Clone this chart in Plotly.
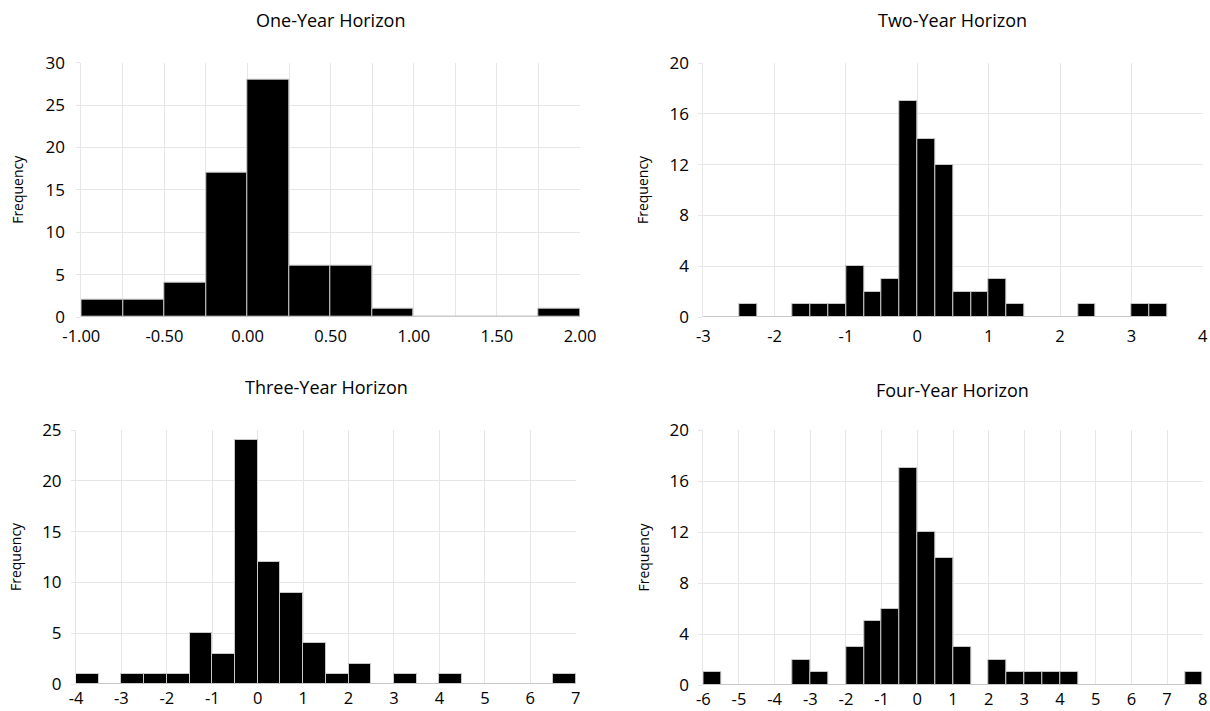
import plotly.graph_objects as go

# ---- data ----
titles = ["One-Year Horizon", "Two-Year Horizon", "Three-Year Horizon", "Four-Year Horizon"]

p1_start, p1_width = -1.0, 0.25
p1_counts = [2, 2, 4, 17, 28, 6, 6, 1, 0, 0, 0, 1]

p2_start, p2_width = -3.0, 0.25
p2_counts = [0, 0, 1, 0, 0, 1, 1, 1, 4, 2, 3, 17, 14, 12, 2, 2, 3, 1, 0, 0, 0, 1, 0, 0, 1, 1]

p3_start, p3_width = -4.0, 0.5
p3_counts = [1, 0, 1, 1, 1, 5, 3, 24, 12, 9, 4, 1, 2, 0, 1, 0, 1, 0, 0, 0, 0, 1]

p4_start, p4_width = -6.0, 0.5
p4_counts = [1, 0, 0, 0, 0, 2, 1, 0, 3, 5, 6, 17, 12, 10, 3, 0, 2, 1, 1, 1, 1, 0, 0, 0, 0, 0, 0, 1]

p1_xgrid = [-1.0, -0.75, -0.5, -0.25, 0.0, 0.25, 0.5, 0.75, 1.0, 1.25, 1.5, 1.75, 2.0]
p1_xlabels = ["-1.00", "", "-0.50", "", "0.00", "", "0.50", "", "1.00", "", "1.50", "", "2.00"]
p2_xgrid = [-3, -2, -1, 0, 1, 2, 3, 4]
p3_xgrid = [-4, -3, -2, -1, 0, 1, 2, 3, 4, 5, 6, 7]
p4_xgrid = [-6, -5, -4, -3, -2, -1, 0, 1, 2, 3, 4, 5, 6, 7, 8]

p1_yticks = [0, 5, 10, 15, 20, 25, 30]
p2_yticks = [0, 4, 8, 12, 16, 20]
p3_yticks = [0, 5, 10, 15, 20, 25]
p4_yticks = [0, 4, 8, 12, 16, 20]

panels = [
    (p1_start, p1_width, p1_counts, p1_xgrid, p1_xlabels, p1_yticks),
    (p2_start, p2_width, p2_counts, p2_xgrid, [str(v) for v in p2_xgrid], p2_yticks),
    (p3_start, p3_width, p3_counts, p3_xgrid, [str(v) for v in p3_xgrid], p3_yticks),
    (p4_start, p4_width, p4_counts, p4_xgrid, [str(v) for v in p4_xgrid], p4_yticks),
]

# ---- layout geometry (pixels) ----
W, H = 1210, 711
boxes = [  # x0, x1, ytop, ybottom
    (81.3, 580, 62.7, 317),
    (703.3, 1202.7, 63, 317),
    (76, 575.7, 430, 684),
    (703.3, 1202.7, 430, 685),
]
x_standoff = [7, 7, 2, 2]
y_standoff = [8, 6, 6, 6]
title_pos = [(330, 20), (952, 20), (326, 387), (952, 390)]
freq_x = [18, 643, 15, 643]

FONT = "Open Sans"
GRID = "#e6e6e6"
fig = go.Figure()
layout = dict(width=W, height=H, margin=dict(l=0, r=0, t=0, b=0, autoexpand=False),
              template="none",
              paper_bgcolor="white", plot_bgcolor="white", showlegend=False,
              bargap=0, annotations=[])

for i, (start, width, counts, xgrid, xlabels, yticks) in enumerate(panels):
    n = i + 1
    xa = "x" if n == 1 else f"x{n}"
    ya = "y" if n == 1 else f"y{n}"
    centers = [start + width * (k + 0.5) for k in range(len(counts))]
    fig.add_trace(go.Bar(x=centers, y=counts, width=[width] * len(counts),
                         marker=dict(color="black", line=dict(color="#c8c8c8", width=1)),
                         xaxis=xa, yaxis=ya, hoverinfo="x+y"))
    x0, x1, yt, yb = boxes[i]
    layout[f"xaxis{'' if n == 1 else n}"] = dict(
        domain=[x0 / W, x1 / W], anchor=ya, range=[xgrid[0], xgrid[-1]],
        tickmode="array", tickvals=xgrid, ticktext=xlabels,
        showgrid=True, gridcolor=GRID, gridwidth=1, automargin=False,
        zeroline=False, showline=False, ticks="", ticklabelstandoff=x_standoff[i],
        tickfont=dict(family=FONT, size=16.5, color="black"), fixedrange=True)
    layout[f"yaxis{'' if n == 1 else n}"] = dict(
        domain=[1 - yb / H, 1 - yt / H], anchor=xa, range=[0, yticks[-1]],
        tickmode="array", tickvals=yticks,
        showgrid=True, gridcolor=GRID, gridwidth=1, automargin=False,
        zeroline=False, showline=True, linecolor=GRID, linewidth=1,
        ticks="outside", ticklen=4, tickcolor=GRID, ticklabelstandoff=y_standoff[i],
        tickfont=dict(family=FONT, size=17, color="black"), fixedrange=True)
    tx, ty = title_pos[i]
    layout["annotations"].append(dict(
        text=titles[i], x=tx / W, y=1 - ty / H, xref="paper", yref="paper",
        showarrow=False, xanchor="center", yanchor="middle",
        font=dict(family=FONT, size=18, color="black")))
    layout["annotations"].append(dict(
        text="Frequency", x=freq_x[i] / W, y=1 - ((yt + yb) / 2) / H,
        xref="paper", yref="paper", showarrow=False, textangle=-90,
        xanchor="center", yanchor="middle",
        font=dict(family=FONT, size=14, color="black")))

fig.update_layout(**layout)
fig.write_html("out.html")
